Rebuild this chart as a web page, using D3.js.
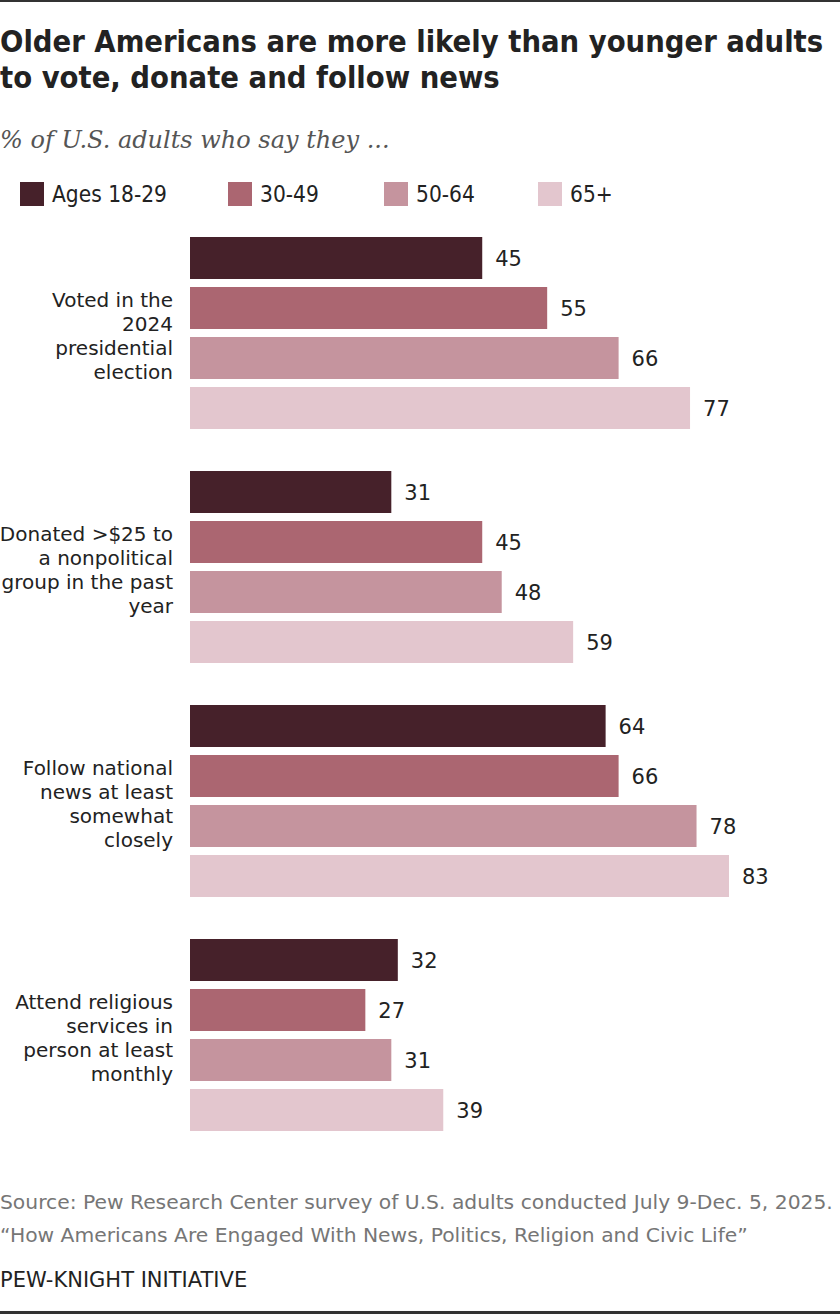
<!DOCTYPE html>
<html lang="en">
<head>
<meta charset="UTF-8">
<title>Older Americans civic engagement</title>
<script src="https://cdn.jsdelivr.net/npm/d3@7"></script>
<style>
  body { margin: 0; background: #fff; }
  .cond { font-family: "DejaVu Sans Condensed", "DejaVu Sans", sans-serif; font-stretch: condensed; }
  .sans { font-family: "DejaVu Sans", "Liberation Sans", sans-serif; }
</style>
</head>
<body>
<script>
    const width  = 840;
    const height = 1314;

    const ageGroups = ["Ages 18-29", "30-49", "50-64", "65+"];
    const colors = ["#46212a", "#ab6671", "#c5949e", "#e3c6ce"];
    const categories = ["vote", "donate", "news", "religion"];
    const categoryLines = [
        ["Voted in the", "2024", "presidential", "election"],
        ["Donated >$25 to", "a nonpolitical", "group in the past", "year"],
        ["Follow national", "news at least", "somewhat", "closely"],
        ["Attend religious", "services in", "person at least", "monthly"]
    ];
    const ages1829 = [45, 31, 64, 32];
    const ages3049 = [55, 45, 66, 27];
    const ages5064 = [66, 48, 78, 31];
    const ages65   = [77, 59, 83, 39];
    const series = [ages1829, ages3049, ages5064, ages65];

    const svg = d3.select("body")
            .append("svg")
            .attr("width", width)
            .attr("height", height);

    // frame lines top and bottom
    svg.append("rect").attr("x", 0).attr("y", 0).attr("width", width).attr("height", 2).attr("fill", "#333");
    svg.append("rect").attr("x", 0).attr("y", height - 3).attr("width", width).attr("height", 3).attr("fill", "#333");

    // title
    const title = svg.append("text")
            .attr("class", "cond")
            .attr("font-size", 30.6)
            .attr("font-weight", "bold")
            .attr("fill", "#222");
    title.append("tspan").attr("x", 0).attr("y", 52).text("Older Americans are more likely than younger adults");
    title.append("tspan").attr("x", 0).attr("y", 88).text("to vote, donate and follow news");

    svg.append("text")
            .attr("x", 0).attr("y", 148)
            .attr("font-family", "'DejaVu Serif', 'Liberation Serif', serif")
            .attr("font-style", "italic")
            .attr("font-size", 24)
            .attr("fill", "#555")
            .text("% of U.S. adults who say they ...");

    // legend
    const legendX = [20, 228, 384, 538];
    const legend = svg.selectAll(".legend")
            .data(ageGroups)
            .enter().append("g")
            .attr("transform", (d, i) => "translate(" + legendX[i] + ",182)");
    legend.append("rect")
            .attr("width", 24).attr("height", 24)
            .attr("fill", (d, i) => colors[i]);
    legend.append("text")
            .attr("class", "cond")
            .attr("x", 32).attr("y", 20)
            .attr("font-size", 22.5)
            .attr("fill", "#222")
            .text(d => d);

    // scales
    const x = d3.scaleLinear().domain([0, 100]).range([190, 839.4]);
    const yGroup = d3.scaleBand()
            .domain(categories)
            .range([237, 1131])
            .paddingInner(42 / 234)
            .paddingOuter(0);
    const yInner = d3.scaleBand()
            .domain(ageGroups)
            .range([0, yGroup.bandwidth()])
            .paddingInner(8 / 50)
            .paddingOuter(0);

    const groups = svg.selectAll(".group")
            .data(categories)
            .enter().append("g")
            .attr("transform", d => "translate(0," + yGroup(d) + ")");

    groups.each(function(cat, ci) {
        const g = d3.select(this);
        const rows = ageGroups.map((a, ai) => ({ age: a, ai: ai, value: series[ai][ci] }));

        g.selectAll("rect")
                .data(rows)
                .enter().append("rect")
                .attr("x", x(0))
                .attr("y", d => yInner(d.age))
                .attr("width", d => x(d.value) - x(0))
                .attr("height", yInner.bandwidth())
                .attr("fill", d => colors[d.ai]);

        g.selectAll(".val")
                .data(rows)
                .enter().append("text")
                .attr("class", "val sans")
                .attr("x", d => x(d.value) + 13)
                .attr("y", d => yInner(d.age) + yInner.bandwidth() / 2)
                .attr("dy", "0.36em")
                .attr("font-size", 21)
                .attr("fill", "#222")
                .text(d => d.value);

        const lines = categoryLines[ci];
        const mid = yGroup.bandwidth() / 2;
        const lh = 24;
        g.append("text")
                .attr("class", "sans")
                .attr("text-anchor", "end")
                .attr("font-size", 20)
                .attr("fill", "#222")
                .selectAll("tspan")
                .data(lines)
                .enter().append("tspan")
                .attr("x", 173)
                .attr("y", (d, i) => mid + (i - (lines.length - 1) / 2) * lh)
                .attr("dy", "0.48em")
                .text(d => d);
    });

    // footer
    const foot = svg.append("text")
            .attr("class", "sans")
            .attr("font-size", 20.3)
            .attr("fill", "#767676");
    foot.append("tspan").attr("x", 0).attr("y", 1209)
            .text("Source: Pew Research Center survey of U.S. adults conducted July 9-Dec. 5, 2025.");
    foot.append("tspan").attr("x", 0).attr("y", 1242)
            .text("\u201cHow Americans Are Engaged With News, Politics, Religion and Civic Life\u201d");

    svg.append("text")
            .attr("class", "sans")
            .attr("x", 0).attr("y", 1287)
            .attr("font-size", 21)
            .attr("fill", "#222")
            .text("PEW-KNIGHT INITIATIVE");
</script>
</body>
</html>
